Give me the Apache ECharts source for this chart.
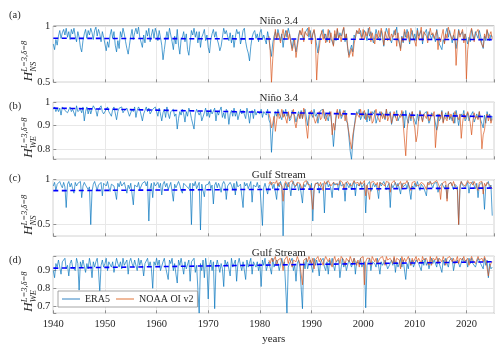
<!DOCTYPE html>
<html><head><meta charset="utf-8">
<script src="https://cdn.jsdelivr.net/npm/echarts@6/dist/echarts.min.js"></script>
<style>html,body{margin:0;padding:0;background:#fff}#c{width:500px;height:348px}</style>
</head><body><div id="c"></div>
<script>
// ---- time grid (years) ----
const startYear = 1940;
const stepsPerYear = 4;          // one value every quarter
const noaaStartIndex = 167;      // NOAA OI v2 starts late 1981
const xMin = 1940, xMax = 2025.4;
const xTickStep = 10;

const panelTitles = ['Niño 3.4', 'Niño 3.4', 'Gulf Stream', 'Gulf Stream'];
const panelLetters = ['(a)', '(b)', '(c)', '(d)'];
const yLabelSubs = ['NS', 'WE', 'NS', 'WE'];
const yLabelSup = 'L=3,δ=8';
const yTickLabels = [[0.5, 1], [0.8, 0.9, 1], [0.5, 1], [0.7, 0.8, 0.9]];
const yRanges = [[0.5, 1], [0.755, 1], [0.37, 1], [0.659, 0.981]];

// ---- values in percent ----
const era5A = [
84,79,88,83, 91,96,89,94, 97,92,98,90, 95,88,97,93, 98,91,86,95, 90,81,77,87, 93,97,89,96, 92,98,94,88, 96,99,91,97, 93,86,95,90,
84,78,86,81, 92,97,89,95, 83,77,87,80, 95,90,98,93, 86,80,75,83, 91,97,88,94, 98,93,99,90, 89,81,92,85, 96,91,98,86, 92,97,89,98,
94,87,96,90, 83,70,79,88, 95,89,98,92, 86,79,91,84, 97,83,75,88, 90,95,86,93, 79,74,85,96, 92,98,90,95, 85,95,81,90, 93,97,87,92,
81,76,88,93, 97,90,95,88, 84,78,82,90, 98,93,96,91, 87,94,85,92, 81,90,97,93, 95,84,89,96, 98,86,80,76, 69,82,90,94, 96,89,93,86,
94,97,88,92, 91,84,95,89, 80,73,85,91, 95,88,97,92, 87,93,81,90, 96,90,98,93, 86,80,88,83, 77,84,92,96, 97,91,88,94, 95,98,90,96,
88,93,96,90, 83,76,87,92, 94,97,89,93, 86,92,96,89, 90,83,93,87, 97,89,94,91, 91,98,86,93, 80,74,79,83, 77,92,89,96, 97,93,96,90,
89,96,92,87, 98,91,95,89, 85,90,97,92, 93,87,96,90, 82,92,98,94, 94,88,85,91, 96,92,99,89, 88,80,91,85, 95,90,97,92, 84,91,96,88,
93,87,98,91, 90,96,84,92, 92,97,89,95, 95,88,93,90, 86,97,91,84, 83,79,88,85, 94,98,90,96, 96,85,92,88, 80,88,97,92, 91,95,87,93,
93,84,90,86, 97,92,88,95, 95,89,96,91, 84,80,91,87, 96,93,87,92, 90];
const noaaA = [
91,
78,50,71,86, 97,88,94,90, 85,92,97,89, 90,96,88,93, 94,78,83,88, 72,81,89,96, 92,98,86,95, 95,91,99,93,
84,93,97,88, 52,74,80,90, 96,88,93,85, 90,97,85,94, 93,82,96,89, 98,89,92,86, 95,99,88,93, 82,72,76,80, 73,84,90,96, 93,98,92,88,
97,88,95,91, 91,99,86,94, 94,84,93,88, 96,90,98,93, 83,95,91,87, 98,87,93,90, 92,97,82,94, 95,78,90,86, 97,93,89,95, 86,98,94,90,
90,82,96,88, 93,99,87,95, 96,91,85,92, 98,92,94,89, 88,96,79,90, 86,92,97,84, 93,89,99,94, 95,88,92,97, 65,84,96,90, 90,97,85,93,
53,79,88,94, 98,91,86,93, 94,97,90,86, 85,81,93,89, 97,89,92,95, 88];
const era5B = [
97,98,96,97.5, 96,97.5,94.5,98, 98,96.5,97,95.5, 95,98,96,97, 97,94,98.5,96, 96,97,95.5,98, 92,96,98,95, 97.5,95,97,98.5, 98,96.5,94,97, 97,98.5,96,95,
95,97,98,96, 96.5,94,97,98, 98,92.5,96,97.5, 97,98,95.5,96.5, 96,97.5,98,94, 94.5,97,96,98, 93.5,96.5,98,97, 97,92,95,96.5, 98,96,97.5,95, 95,97,96.5,98,
96,94,97.5,95, 92,95.5,97,93.5, 98,95,93,96, 96.5,97,94,95, 88.5,93,96,94.5, 97,95,91.5,96, 94,97.5,96,93, 92.5,88.5,95,97, 97,94.5,96,92, 91.5,95.5,97.5,94,
96,93.5,97,95, 95,97.5,92,96, 94.5,96.5,98,93.5, 95.5,93,97,96, 90.5,95,96.5,94, 97.5,94,96,92.5, 92.5,97,95,96.5, 96.5,93,97.5,95, 91,95.5,96.5,93, 97,94.5,96,95.5,
95,97,93.5,96, 96,94.5,97,92.5, 91,78.5,88,93, 96,94,97,95, 95,92.5,96.5,94, 97,94,95.5,92, 93,96.5,97,94, 91.5,94,96,93, 96.5,93,95.5,97, 97,90,94.5,96,
96,93.5,97,94, 95,91,94.5,96.5, 96.5,97,93,95, 95.5,92,96,94, 89,81,88,93, 96,94.5,97,93, 93,95.5,96.5,92, 91,85,79,75.5, 83,89,93.5,96, 95,97,92.5,94,
96,93,95.5,91.5, 97,92,94.5,96, 95,96.5,91,93, 93.5,96,94,95.5, 95.5,92.5,97,94, 94,96,90.5,93, 95,93.5,96.5,92, 92,95,94,96, 89,96.5,93,91, 95.5,92,96,93.5,
93,90.5,95,92, 96.5,94,92,95, 95,96,93.5,91, 92.5,95.5,96,94, 94,88,95,92, 93,96.5,91.5,94, 95.5,93,96,92.5, 94,92,95.5,91, 96.5,93.5,90,94, 95,94,96.5,92,
93,95.5,92,94, 94.5,96,91.5,93, 95,93,96,92.5, 92,89,94.5,91, 96,93.5,95,92, 94];
const noaaB = [
95,
93,89,91,94, 87.5,92,96,93, 94,97,93.5,95, 95.5,91,96,93, 93,95,97,91.5, 89,92.5,95,93, 96,93,97.5,94, 94,84.5,92,95,
96.5,95,93,91, 91,94,96,92.5, 93.5,97,95,92, 92,95.5,94,96, 86,91,88,95, 97,93,96,94, 94.5,96.5,92,95, 90,87,83,80, 86,89,92,95.5, 96,93.5,97,94,
94,96.5,92.5,95, 95.5,93,96,91, 92,95,97,94, 94,91.5,96,93, 95,93,97,92, 92.5,95.5,91,94, 96,94,92,95, 95,93.5,96.5,91, 91,77,88,93, 95,93,96,92,
89,83,86,93, 96,94,91.5,95, 95.5,93,96,92, 92,95,94,96, 80.5,88,90,95, 93,96,91,94, 94.5,92,96,93, 95,93.5,91,96, 96,94,92.5,95, 84.5,91,95,93,
93,96,94,91, 86,92,95.5,93, 94,92.5,96,91, 80,86,88,93, 95,92,94.5,91, 93];
const era5C = [
93,97,88,95, 96,98,94,91, 97,92,69,95, 98,92,96,90, 85,97,93,96, 95,98,80,93, 97,94,96,89, 92,50,87,95, 98,96,88,94, 94,97,82,96,
96,93,98,91, 87,95,97,93, 94,78,96,92, 98,93,95,97, 97,85,94,90, 96,98,72,94, 95,92,97,89, 88,96,94,98, 93,98,54,90, 96,80,97,93,
94,97,91,96, 83,95,98,92, 96,89,93,97, 97,76,95,91, 92,98,94,88, 85,96,97,93, 94,90,96,50, 96,93,98,90, 88,97,44,95, 97,81,94,92,
95,98,90,94, 73,94,97,91, 96,92,86,95, 98,95,78,93, 93,97,94,89, 96,83,98,92, 91,95,97,69, 97,93,96,90, 89,98,75,94, 95,92,97,91,
94,96,49,91, 96,98,84,93, 93,97,90,95, 95,78,96,92, 98,93,37.5,90, 96,90,97,93, 82,95,98,91, 93,96,88,95, 97,74,95,92, 92,98,94,89,
96,54,90,95, 95,97,85,93, 93,96,63,94, 98,92,95,90, 80,97,94,92, 96,88,98,93, 93,95,76,97, 97,91,96,89, 94,98,82,95, 95,93,97,91,
90,96,63,94, 94,98,87,92, 96,92,95,89, 79,97,93,95, 98,94,89,93, 96,69,95,91, 93,97,91,96, 98,84,96,92, 94,95,90,97, 97,78,93,90,
96,92,98,93, 88,95,97,91, 93,82,96,94, 98,94,91,96, 95,97,86,92, 92,96,98,90, 94,79,95,93, 97,93,89,95, 96,92,50,90, 98,94,96,91,
91,97,85,94, 95,98,93,90, 96,80,94,92, 97,91,67,93, 95,98,90,94, 60];
const noaaC = [
95,
98,94,97,96, 96,99,93,97, 97,93,76,95, 98,96,92,97, 97,99,95,93, 93,97,98,96, 96,89,97,98, 99,95,97,94,
94,67,90,96, 98,96,93,97, 97,88,98,95, 95,99,96,93, 92,97,98,95, 96,94,99,97, 97,90,96,98, 98,95,97,93, 94,99,96,97, 97,93,98,95,
96,99,82,94, 95,78,97,96, 98,96,94,97, 88,97,99,95, 96,93,98,97, 97,86,96,94, 99,95,97,93, 94,98,90,96, 97,96,99,95, 95,88,97,98,
98,94,96,93, 92,97,99,95, 96,89,97,94, 98,95,93,97, 97,99,96,92, 78,94,97,95, 98,76,95,97, 97,93,98,94, 96,88,50,94, 98,95,97,93,
93,99,96,97, 97,94,98,95, 95,88,97,96, 98,84,96,93, 97,99,94,96, 90];
const era5D = [
90,86,94,92, 96,92,88,95, 95,97,91,93, 87,94,96,92, 93,90,97,94, 79,95,92,96, 96,89,94,91, 97,93,86,95, 92,95,97,90, 78,93,96,92,
94,97,90,95, 96,92,95,89, 89,97,94,92, 95,91,97,93, 93,96,88,95, 97,94,92,96, 95,90,97,93, 96,93,87,94, 94,97,92,95, 91,80,95,93,
97,93,96,90, 89,95,97,92, 92,85,96,94, 97,90,94,88, 83,96,93,97, 97,88,95,91, 92,96,84,95, 95,97,89,93, 93,66,94,90, 96,86,97,92,
74,93,96,90, 95,68.5,92,96, 97,89,94,91, 81,96,93,95, 95,87,97,92, 92,96,84,94, 97,93,90,95, 95,85,96,92, 93,97,88,95, 96,92,95,90,
94,81,96,93, 97,90,93,95, 95,88,97,92, 92,96,94,90, 89,97,93,95, 96,66,92,94, 95,97,90,93, 84,94,96,92, 93,68.5,95,91, 97,91,94,96,
95,89,97,93, 96,93,87,95, 94,97,92,90, 95,88,96,93, 97,93,90,95, 94,96,86,92, 97,92,95,90, 89,96,94,92, 93,97,88,95, 96,94,97,92,
91,95,69,93, 93,97,90,95, 96,94,92,97, 97,88,95,93, 93,96,97,91, 91,94,96,93, 97,89,95,92, 94,97,92,96, 96,85,94,91, 97,93,96,92,
92,96,97,94, 94,90,96,93, 97,93,95,91, 91,97,94,96, 96,92,97,94, 95,89,96,93, 97,94,92,96, 96,97,90,94, 94,96,97,92, 93,97,95,96,
96,92,97,94, 97,94,95,92, 93,97,96,94, 95,91,97,93, 96,86,94,91, 92];
const noaaD = [
96,
94,97,95,96, 98,93,96,97, 97,95,90,96, 96,98,94,97, 97,92,96,95, 95,98,97,94, 93,82,96,97, 97,95,98,96,
94,97,91,96, 96,98,95,97, 97,93,96,98, 98,95,97,94, 92,96,98,95, 95,97,94,98, 98,96,93,97, 97,95,98,96, 94,97,96,93, 96,92,97,98,
98,82,95,97, 96,97,93,98, 98,95,97,94, 94,97,96,98, 97,93,98,96, 95,97,96,94, 98,94,97,96, 96,91,98,95, 97,95,96,98, 98,93,97,95,
96,98,95,97, 97,94,98,96, 95,97,96,93, 98,93,97,96, 96,98,94,97, 97,95,98,96, 93,97,96,98, 98,95,97,94, 96,98,94,97, 97,96,98,95,
95,97,93,96, 98,96,97,94, 94,98,96,97, 97,95,98,96, 96,87,92,94, 95];
// linear trend (dashed): value at xMin and at xMax
const trendA = [89.1, 87.9];
const trendB = [97.5, 93.8];
const trendC = [87.8, 90.7];
const trendD = [91.4, 95.0];

const era5All = [era5A, era5B, era5C, era5D];
const noaaAll = [noaaA, noaaB, noaaC, noaaD];
const trendAll = [trendA, trendB, trendC, trendD];

// ---- layout ----
const gridLeft = 53.3, gridRight = 5.7;
const gridTops = [26, 102.3, 179.7, 256.3];
const gridHeights = [56.3, 57, 56.6, 57];
const titleTops = [11, 88, 165, 243];
const letterTops = [5, 96, 168, 250];
const FONT = '"Liberation Serif", "DejaVu Serif", serif';
const TXT = '#262626';
const BLUE = '#0072BD', ORANGE = '#D95319';

function toSeries(vals, offset) {
  return vals.map((v, i) => [startYear + (i + offset) / stepsPerYear, v / 100]);
}

const grids = [], xAxes = [], yAxes = [], series = [], titles = [], graphics = [];
for (let p = 0; p < 4; p++) {
  grids.push({left: gridLeft, right: gridRight, top: gridTops[p], height: gridHeights[p],
    show: true, borderColor: '#8f8f8f', borderWidth: 1, backgroundColor: 'transparent'});
  xAxes.push({type: 'value', gridIndex: p, min: xMin, max: xMax, interval: xTickStep,
    axisLine: {show: false},
    axisTick: {show: true, inside: true, length: 3, lineStyle: {color: '#8f8f8f'}},
    axisLabel: {show: p === 3, fontFamily: FONT, fontSize: 10.5, color: TXT, margin: 5,
      formatter: v => (v % 10 === 0 ? String(v) : ''), showMaxLabel: false},
    splitLine: {show: true, lineStyle: {color: '#e8e8e8', width: 1}},
    name: p === 3 ? 'years' : '', nameLocation: 'middle', nameGap: 20,
    nameTextStyle: {fontFamily: FONT, fontSize: 11, color: TXT}});
  const ticks = yTickLabels[p];
  const rng = yRanges[p];
  const splitN = [1, 2, 1, 3][p];
  yAxes.push({type: 'value', gridIndex: p, min: rng[0], max: rng[1], splitNumber: splitN,
    axisLine: {show: false},
    axisTick: {show: true, inside: true, length: 3, lineStyle: {color: '#8f8f8f'}},
    axisLabel: {fontFamily: FONT, fontSize: 10.5, color: TXT, margin: 3,
      formatter: v => { const hit = ticks.find(t => Math.abs(t - v) < 1e-6); return hit === undefined ? '' : String(hit); }},
    splitLine: {show: true, lineStyle: {color: '#e8e8e8', width: 1}}});
  series.push({type: 'line', name: 'ERA5', xAxisIndex: p, yAxisIndex: p, data: toSeries(era5All[p], 0),
    symbol: 'none', lineStyle: {color: BLUE, width: 0.8, opacity: 0.85}, itemStyle: {color: BLUE},
    silent: true, animation: false, z: 2});
  series.push({type: 'line', name: 'NOAA OI v2', xAxisIndex: p, yAxisIndex: p, data: toSeries(noaaAll[p], noaaStartIndex),
    symbol: 'none', lineStyle: {color: ORANGE, width: 0.8, opacity: 0.85}, itemStyle: {color: ORANGE},
    silent: true, animation: false, z: 3});
  series.push({type: 'line', name: 'trend', xAxisIndex: p, yAxisIndex: p,
    data: [[xMin, trendAll[p][0] / 100], [xMax, trendAll[p][1] / 100]],
    symbol: 'none', lineStyle: {color: '#0000FF', width: 1.6, type: [5, 3.5]},
    silent: true, animation: false, z: 4});
  titles.push({text: panelTitles[p], left: (gridLeft + 500 - gridRight) / 2, top: titleTops[p], textAlign: 'center',
    textStyle: {fontFamily: FONT, fontSize: 11, fontWeight: 'normal', color: TXT}});
  titles.push({text: panelLetters[p], left: 4, top: letterTops[p],
    textStyle: {fontFamily: FONT, fontSize: 10.5, fontWeight: 'normal', color: TXT}});
  const cy = gridTops[p] + gridHeights[p] / 2;
  graphics.push({type: 'group', x: 29, y: cy, rotation: Math.PI / 2, children: [
    {type: 'text', x: -27, y: 0, style: {text: 'H', font: 'italic 13px ' + FONT, fill: TXT, textAlign: 'left', textVerticalAlign: 'middle'}},
    {type: 'text', x: -17.5, y: -4.5, style: {text: yLabelSup, font: 'italic 8.5px ' + FONT, fill: TXT, textAlign: 'left', textVerticalAlign: 'middle'}},
    {type: 'text', x: -17.5, y: 4.5, style: {text: yLabelSubs[p], font: 'italic 8.5px ' + FONT, fill: TXT, textAlign: 'left', textVerticalAlign: 'middle'}}
  ]});
}

const chart = echarts.init(document.getElementById('c'), null, {renderer: 'canvas'});
chart.setOption({
  animation: false,
  backgroundColor: '#fff',
  title: titles,
  grid: grids, xAxis: xAxes, yAxis: yAxes, series: series,
  graphic: graphics,
  legend: {
    data: [
      {name: 'ERA5', icon: 'rect', itemStyle: {color: '#7fb2da'}},
      {name: 'NOAA OI v2', icon: 'rect', itemStyle: {color: '#eca882'}}
    ],
    left: 58, top: 291, orient: 'horizontal',
    backgroundColor: '#fff', borderColor: '#8f8f8f', borderWidth: 0.8, padding: [3, 4, 3, 4],
    itemWidth: 18, itemHeight: 1.6, itemGap: 6, selectedMode: false,
    textStyle: {fontFamily: FONT, fontSize: 10, color: TXT}}
});
</script></body></html>
